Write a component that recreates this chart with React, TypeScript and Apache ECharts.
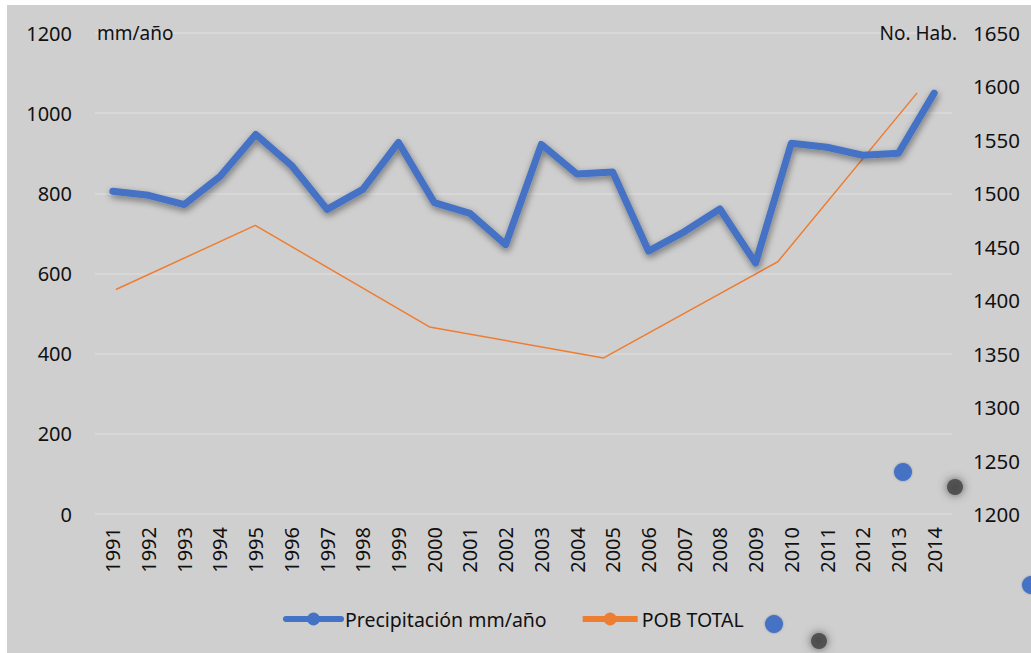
import React, { useEffect, useRef } from "react";
import * as echarts from "echarts";

const years = ["1991","1992","1993","1994","1995","1996","1997","1998","1999","2000","2001","2002","2003","2004","2005","2006","2007","2008","2009","2010","2011","2012","2013","2014"];
const precipitation = [805, 795, 772, 842, 947, 870, 760, 810, 927, 777, 750, 672, 922, 848, 853, 656, 704, 761, 626, 925, 915, 895, 900, 1050];
const popYears = [1991, 1995, 2000, 2005, 2010, 2014];
const popTotal = [1410, 1470, 1375, 1346, 1436, 1594];
const leftTicks = { min: 0, max: 1200, interval: 200 };
const rightTicks = { min: 1200, max: 1650, interval: 50 };

const FONT = "Noto Sans";
const TXT = "#111";
const plain = (v: number) => String(v);

export default function App() {
  const ref = useRef<HTMLDivElement>(null);
  useEffect(() => {
    const chart = echarts.init(ref.current!, null, { renderer: "svg" });
    chart.setOption({
      animation: false,
      backgroundColor: "#ffffff",
      textStyle: { fontFamily: FONT },
      grid: { left: 95, right: 79, top: 33, bottom: 139 },
      legend: {
        left: 278,
        top: 604,
        itemWidth: 55,
        itemHeight: 16,
        itemGap: 33,
        textStyle: { fontFamily: FONT, fontSize: 19.5, color: TXT, padding: [0, 0, 0, -1] },
        data: [
          { name: "Precipitación mm/año", lineStyle: { width: 6, shadowBlur: 0, shadowOffsetY: 0, shadowOffsetX: 0 } },
          { name: "POB TOTAL", lineStyle: { width: 6 } },
        ],
      },
      xAxis: [
        {
          type: "category",
          data: years,
          boundaryGap: true,
          axisLine: { show: false },
          axisTick: { show: false },
          axisLabel: { rotate: 90, margin: 13, fontSize: 20, color: TXT, fontFamily: FONT },
        },
        {
          type: "value",
          min: 1990.4,
          max: 2015,
          show: false,
          splitLine: { show: false },
        },
      ],
      yAxis: [
        {
          type: "value",
          ...leftTicks,
          axisLine: { show: false },
          axisTick: { show: false },
          axisLabel: { margin: 23, fontSize: 20, color: TXT, fontFamily: FONT, formatter: plain },
          splitLine: { lineStyle: { color: "#dcdbdc", width: 1.5 } },
        },
        {
          type: "value",
          ...rightTicks,
          position: "right",
          axisLine: { show: false },
          axisTick: { show: false },
          axisLabel: { margin: 21, fontSize: 20.5, color: TXT, fontFamily: FONT, formatter: plain },
          splitLine: { show: false },
        },
      ],
      series: [
        {
          name: "POB TOTAL",
          type: "line",
          xAxisIndex: 1,
          yAxisIndex: 1,
          data: popYears.map((y, i) => [y, popTotal[i]]),
          symbol: "circle",
          showSymbol: false,
          color: "#ed7d31",
          lineStyle: { color: "#ed7d31", width: 1.5 },
          z: 2,
        },
        {
          name: "Precipitación mm/año",
          type: "line",
          xAxisIndex: 0,
          yAxisIndex: 0,
          data: precipitation,
          symbol: "circle",
          showSymbol: false,
          color: "#4472c4",
          lineStyle: {
            color: "#4472c4",
            width: 7,
            cap: "round",
            join: "round",
            shadowColor: "rgba(0,0,0,0.45)",
            shadowBlur: 7,
            shadowOffsetX: 1,
            shadowOffsetY: 3,
          },
          z: 3,
        },
      ],
      graphic: [
        { type: "rect", z: -100, silent: true, shape: { x: 7, y: 5, width: 1024, height: 648 }, style: { fill: "#d0cfd0" } },
        { type: "text", z: 10, x: 97, y: 33, style: { text: "mm/año", font: `19px "${FONT}"`, fill: TXT, verticalAlign: "middle" } },
        { type: "text", z: 10, x: 957, y: 33, style: { text: "No. Hab.", font: `19px "${FONT}"`, fill: TXT, align: "right", verticalAlign: "middle" } },
        { type: "circle", z: 100, shape: { cx: 903, cy: 472, r: 9 }, style: { fill: "#4472c4", shadowBlur: 2, shadowColor: "rgba(0,0,0,0.3)" } },
        { type: "circle", z: 100, shape: { cx: 774, cy: 624, r: 9 }, style: { fill: "#4472c4", shadowBlur: 2, shadowColor: "rgba(0,0,0,0.3)" } },
        { type: "circle", z: 100, shape: { cx: 1031, cy: 585, r: 9 }, style: { fill: "#4472c4", shadowBlur: 2, shadowColor: "rgba(0,0,0,0.3)" } },
        { type: "circle", z: 100, shape: { cx: 955, cy: 487, r: 8 }, style: { fill: "rgba(70,70,70,0.85)", shadowBlur: 10, shadowColor: "#444" } },
        { type: "circle", z: 100, shape: { cx: 819, cy: 641, r: 8 }, style: { fill: "rgba(70,70,70,0.85)", shadowBlur: 10, shadowColor: "#444" } },
      ],
    });
    return () => chart.dispose();
  }, []);
  return (
    <div
      ref={ref}
      style={{ position: "fixed", left: 0, top: 0, width: 1031, height: 653 }}
    />
  );
}
